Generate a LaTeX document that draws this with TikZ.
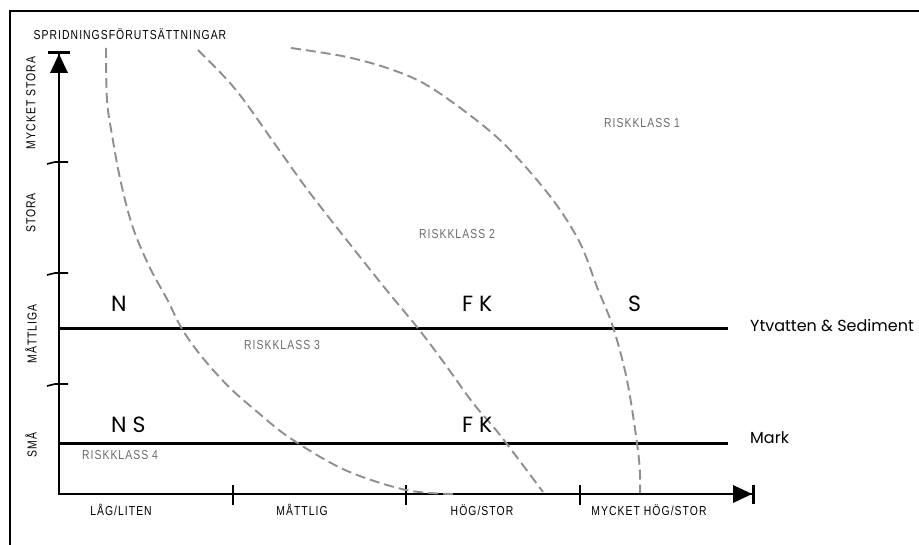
\documentclass[tikz,border=0pt]{standalone}
\usepackage{fontspec}
\setmainfont{Liberation Sans}
\newfontfamily\lblfont[LetterSpace=10]{Liberation Sans}
\newfontfamily\bigfont{Poppins}
\usetikzlibrary{arrows.meta}
\definecolor{curvegray}{HTML}{8E8E8E}
\definecolor{riskgray}{HTML}{6A6A6A}
\newcommand\narrowtxt[1]{\scalebox{0.8}[1]{#1}}
\begin{document}
\begin{tikzpicture}[x=1pt,y=-1pt,
  axisline/.style={line width=2.8pt},
  zoneline/.style={line width=3pt},
  ytick/.style={line width=1.6pt},
  riskcurve/.style={draw=curvegray,line width=1.9pt,dash pattern=on 10pt off 5pt},
  axlabel/.style={font=\lblfont\fontsize{13}{15}\selectfont,inner sep=0},
  risklabel/.style={font=\lblfont\fontsize{13}{15}\selectfont,text=riskgray,inner sep=0},
  bigletter/.style={font=\bigfont\fontsize{22}{25}\selectfont,inner sep=0,anchor=base west},
  sidelabel/.style={font=\bigfont\fontsize{16}{19}\selectfont,inner sep=0,anchor=west}
]
\useasboundingbox (0,0) rectangle (919,545);
% frame
\draw[line width=2pt] (10,545) -- (10,11) -- (919,11);

% axes
\coordinate (Ytop) at (59,51);
\coordinate (O) at (59,494);
\coordinate (Xend) at (755,494);
\draw[axisline,{Bar[width=22pt]Triangle[length=19pt,width=17pt]}-{Triangle[length=19pt,width=17pt]Bar[width=19pt]}] (Ytop) -- (O) -- (Xend);

% y ticks
\foreach \yy in {162,273,384}{
  \draw[ytick] (47,\yy+2) -- (55,\yy) -- (68,\yy);
}
% x ticks
\foreach \xx in {233,406,580}{
  \draw[axisline] (\xx,485) -- (\xx,505);
}

% zone lines
\coordinate (YwL) at (59,328.5);
\coordinate (YwR) at (728,328.5);
\coordinate (MkL) at (59,443);
\coordinate (MkR) at (728,443);
\draw[zoneline] (YwL) -- (YwR);
\draw[zoneline] (MkL) -- (MkR);

% risk boundary curves
\draw[riskcurve] plot[smooth,tension=0.55] coordinates {(106,48) (107,100) (112,135) (121,183) (133,228) (150,268) (167,299) (182,329) (202,357) (228,386) (255,410) (290,438) (345,470) (406,490) (453,494)};
\draw[riskcurve] plot[smooth,tension=0.55] coordinates {(198,50) (236,90) (277,147) (313,197) (380,282) (417,327) (442,360) (473,403) (500,435) (543,492)};
\draw[riskcurve] plot[smooth,tension=0.55] coordinates {(291,48) (347,57) (393,70) (430,87) (480,123) (513,153) (553,200) (580,243) (597,287) (613,327) (627,380) (637,443) (640,473) (640,493)};

% titles and axis labels
\node[axlabel] (title) at (130,34.5) {\narrowtxt{SPRIDNINGSFÖRUTSÄTTNINGAR}};
\node[axlabel,rotate=90] (ymst) at (31,103) {\narrowtxt{MYCKET STORA}};
\node[axlabel,rotate=90] (yst) at (31,213) {\narrowtxt{STORA}};
\node[axlabel,rotate=90] (ymat) at (31,334) {\narrowtxt{MÅTTLIGA}};
\node[axlabel,rotate=90] (ysma) at (31,445) {\narrowtxt{SMÅ}};
\node[axlabel] (xlag) at (121,510) {\narrowtxt{LÅG/LITEN}};
\node[axlabel] (xmat) at (302,510) {\narrowtxt{MÅTTLIG}};
\node[axlabel] (xhog) at (482,510) {\narrowtxt{HÖG/STOR}};
\node[axlabel] (xmhog) at (649,510) {\narrowtxt{MYCKET HÖG/STOR}};

% risk class labels
\node[risklabel] (rk1) at (642,123) {\narrowtxt{RISKKLASS 1}};
\node[risklabel] (rk2) at (457,234) {\narrowtxt{RISKKLASS 2}};
\node[risklabel] (rk3) at (282,345) {\narrowtxt{RISKKLASS 3}};
\node[risklabel] (rk4) at (120,455) {\narrowtxt{RISKKLASS 4}};

% letters
\node[bigletter] (n1) at (111,312) {N};
\node[bigletter] (fk1) at (462,312) {F K};
\node[bigletter] (s1) at (628,312) {S};
\node[bigletter] (ns2) at (111,432) {N S};
\node[bigletter] (fk2) at (462,432) {F K};

% side labels
\node[sidelabel] (yt) at (750,326) {Ytvatten \& Sediment};
\node[sidelabel] (mark) at (750,438) {Mark};
\end{tikzpicture}
\end{document}
